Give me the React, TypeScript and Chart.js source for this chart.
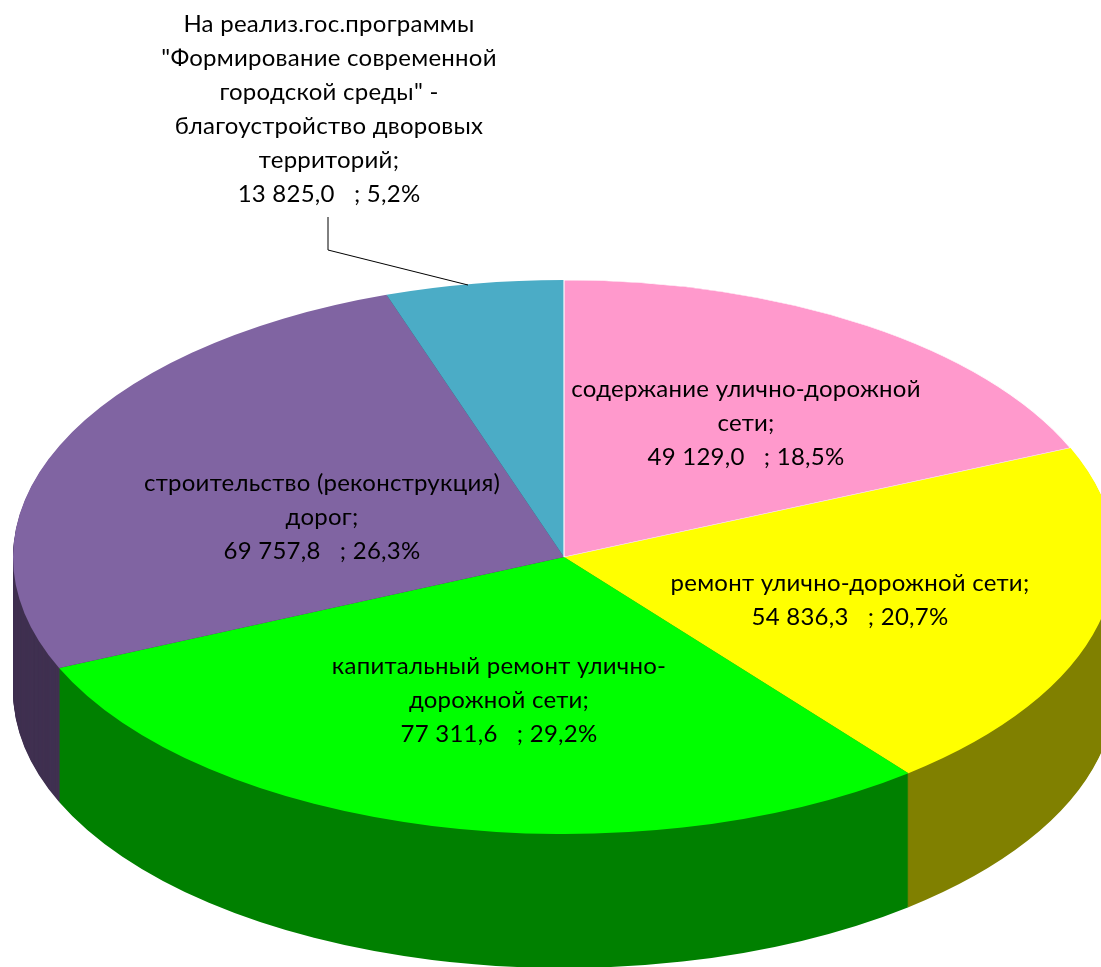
import React, { useEffect, useRef } from "react";
import { Chart, registerables } from "chart.js";

Chart.register(...registerables);

const categories: string[][] = [
  ["содержание улично-дорожной", "сети;"],
  ["ремонт улично-дорожной сети;"],
  ["капитальный ремонт улично-", "дорожной сети;"],
  ["строительство (реконструкция)", "дорог;"],
  ["На реализ.гос.программы", "\"Формирование современной", "городской среды\" -", "благоустройство дворовых", "территорий;"],
];
const values = [49129.0, 54836.3, 77311.6, 69757.8, 13825.0];
const topColors = ["#FF99CC", "#FFFF00", "#00FF00", "#8064A2", "#4BACC6"];
const sideColors = ["#804D66", "#808000", "#008000", "#403151", "#265663"];

// label block anchors (centre x, first-line centre y)
const labelAnchors = [
  [746, 389],
  [850, 583],
  [499, 666],
  [322, 483],
  [329, 24],
];

const CX = 564;
const CY = 557;
const RX = 551;
const RY = 277;
const DEPTH = 134;
const LINE_HEIGHT = 34;
const FONT = '24px Lato, "Noto Sans", sans-serif';

function fmt(v: number) {
  const [i, d] = v.toFixed(1).split(".");
  return i.replace(/\B(?=(\d{3})+$)/g, " ") + "," + d;
}

function project(ctx: CanvasRenderingContext2D, arc: any) {
  ctx.translate(CX, CY);
  ctx.scale(RX / arc.outerRadius, RY / arc.outerRadius);
  ctx.translate(-arc.x, -arc.y);
}

const pie3d = {
  id: "pie3d",
  beforeDatasetsDraw(chart: any) {
    const ctx: CanvasRenderingContext2D = chart.ctx;
    const arcs = chart.getDatasetMeta(0).data;
    // extruded wall: stacked copies of every slice, deepest first
    for (let d = DEPTH; d >= 1; d--) {
      ctx.save();
      ctx.translate(0, d);
      project(ctx, arcs[0]);
      arcs.forEach((arc: any, i: number) => {
        const saved = arc.options;
        arc.options = { ...saved, backgroundColor: sideColors[i], borderWidth: 0 };
        arc.draw(ctx);
        arc.options = saved;
      });
      ctx.restore();
    }
    ctx.save();
    project(ctx, arcs[0]);
  },
  afterDatasetsDraw(chart: any) {
    const ctx: CanvasRenderingContext2D = chart.ctx;
    const arcs = chart.getDatasetMeta(0).data;
    // first slice has a hairline edge that sits above its neighbours
    const saved = arcs[0].options;
    arcs[0].options = { ...saved, borderWidth: 1, borderColor: "#FFFFFF" };
    arcs[0].draw(ctx);
    arcs[0].options = saved;
    ctx.restore();

    const total = values.reduce((a, b) => a + b, 0);
    ctx.save();
    // leader line
    ctx.strokeStyle = "#000000";
    ctx.lineWidth = 1;
    ctx.beginPath();
    ctx.moveTo(328, 217);
    ctx.lineTo(328, 250);
    ctx.lineTo(468, 285);
    ctx.stroke();
    // labels
    ctx.font = FONT;
    (ctx as any).letterSpacing = "0.25px";
    ctx.fillStyle = "#000000";
    ctx.textAlign = "center";
    ctx.textBaseline = "middle";
    categories.forEach((lines, i) => {
      const pct = ((values[i] / total) * 100).toFixed(1).replace(".", ",");
      const all = [...lines, `${fmt(values[i])}   ; ${pct}%`];
      all.forEach((t, j) => {
        ctx.fillText(t, labelAnchors[i][0], labelAnchors[i][1] + j * LINE_HEIGHT);
      });
    });
    ctx.restore();
  },
};

export default function App() {
  const ref = useRef<HTMLCanvasElement>(null);
  useEffect(() => {
    document.body.style.margin = "0";
    const chart = new Chart(ref.current!, {
      type: "pie",
      data: {
        labels: categories.map((c) => c.join(" ")),
        datasets: [
          {
            data: values,
            backgroundColor: topColors,
            borderWidth: 0,
            clip: false,
          } as any,
        ],
      },
      options: {
        responsive: false,
        animation: false,
        layout: { padding: 0 },
        plugins: { legend: { display: false }, tooltip: { enabled: false } },
      },
      plugins: [pie3d],
    });
    return () => chart.destroy();
  }, []);
  return <canvas ref={ref} width={1101} height={967} style={{ display: "block" }} />;
}
